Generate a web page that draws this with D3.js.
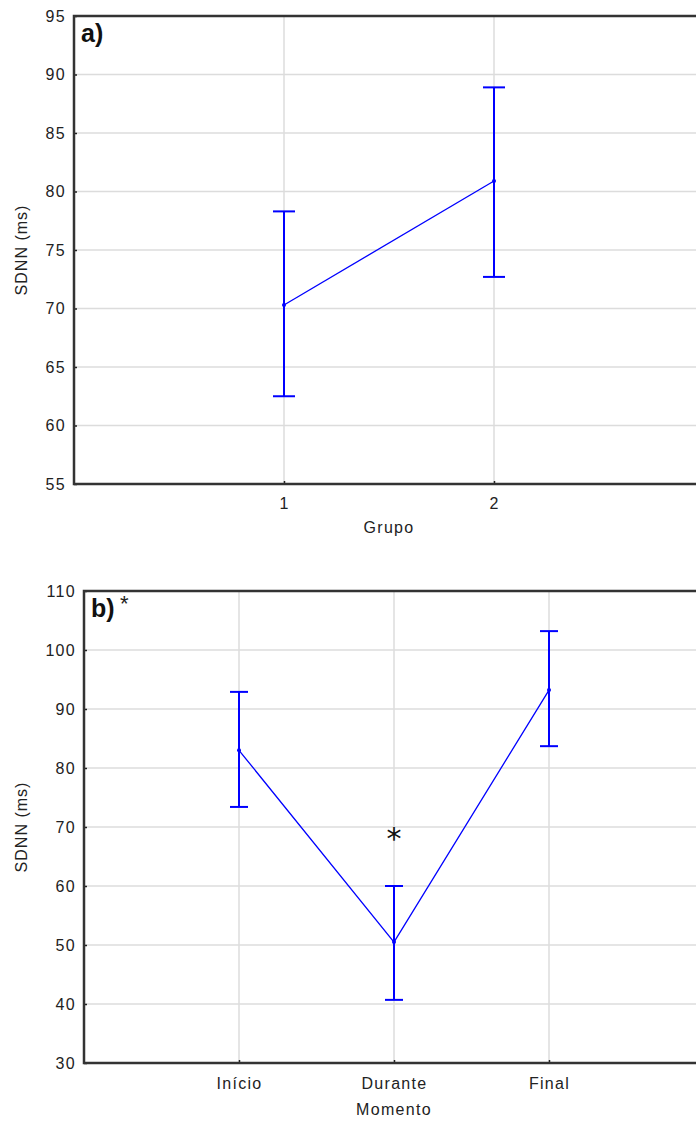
<!DOCTYPE html>
<html>
<head>
<meta charset="utf-8">
<script src="https://cdn.jsdelivr.net/npm/d3@7"></script>
<style>
body { margin: 0; background: #fff; }
text { font-family: "Liberation Sans", Arial, sans-serif; }
</style>
</head>
<body>
<div id="chart"></div>
<script>
// panel a
var groupsA = ["1", "2"];
var meanA = [70.3, 80.9];
var upperA = [78.3, 88.9];
var lowerA = [62.5, 72.7];
var ticksA = [55, 60, 65, 70, 75, 80, 85, 90, 95];

// panel b
var groupsB = ["Início", "Durante", "Final"];
var meanB = [83.0, 50.5, 93.2];
var upperB = [92.9, 60.0, 103.2];
var lowerB = [73.4, 40.7, 83.7];
var ticksB = [30, 40, 50, 60, 70, 80, 90, 100, 110];

var W = 696, H = 1122;
var svg = d3.select("#chart").append("svg")
    .attr("width", W).attr("height", H);

function drawPanel(opt) {
    var g = svg.append("g");
    var x = d3.scaleLinear().domain([0, opt.cats.length + 1]).range([opt.left, 704]);
    var y = d3.scaleLinear().domain([opt.ticks[0], opt.ticks[opt.ticks.length - 1]]).range([opt.bottom, opt.top]);

    // grid
    g.selectAll(".hg").data(opt.ticks.slice(1, -1)).enter().append("line")
        .attr("x1", opt.left).attr("x2", W)
        .attr("y1", function(d){ return y(d); }).attr("y2", function(d){ return y(d); })
        .attr("stroke", "#dcdcdc").attr("stroke-width", 1.5);
    g.selectAll(".vg").data(opt.cats).enter().append("line")
        .attr("x1", function(d,i){ return x(i + 1); }).attr("x2", function(d,i){ return x(i + 1); })
        .attr("y1", opt.top).attr("y2", opt.bottom)
        .attr("stroke", "#dcdcdc").attr("stroke-width", 1.5);

    // axes
    var yAxis = d3.axisLeft(y).tickValues(opt.ticks).tickSize(-3).tickPadding(8);
    var ya = g.append("g").attr("transform", "translate(" + opt.left + ",0)").call(yAxis);
    var xAxis = d3.axisBottom(x).tickValues(opt.cats.map(function(d,i){ return i + 1; }))
        .tickFormat(function(d){ return opt.cats[d - 1]; }).tickSize(-3).tickPadding(opt.xPad);
    var xa = g.append("g").attr("transform", "translate(0," + opt.bottom + ")").call(xAxis);
    [ya, xa].forEach(function(a){
        a.select(".domain").remove();
        a.selectAll("line").attr("stroke", "#222").attr("stroke-width", 1.5);
        a.selectAll("text").attr("fill", "#222").style("font-size", "16px")
            .style("letter-spacing", "1.3px");
    });

    // frame
    g.append("path")
        .attr("d", "M" + W + "," + opt.top + "H" + opt.left + "V" + opt.bottom + "H" + W)
        .attr("fill", "none").attr("stroke", "#333").attr("stroke-width", 2.5);

    // error bars
    var cap = opt.cap;
    opt.cats.forEach(function(c, i){
        var cx = x(i + 1);
        g.append("line").attr("x1", cx).attr("x2", cx)
            .attr("y1", y(opt.upper[i])).attr("y2", y(opt.lower[i]))
            .attr("stroke", "#0000ff").attr("stroke-width", 2);
        [opt.upper[i], opt.lower[i]].forEach(function(v){
            g.append("line").attr("x1", cx - cap).attr("x2", cx + cap)
                .attr("y1", y(v)).attr("y2", y(v))
                .attr("stroke", "#0000ff").attr("stroke-width", 2);
        });
    });

    var line = d3.line().x(function(d,i){ return x(i + 1); }).y(function(d){ return y(d); });
    g.append("path").datum(opt.mean).attr("d", line)
        .attr("fill", "none").attr("stroke", "#0000ff").attr("stroke-width", 1.3);
    g.selectAll(".pt").data(opt.mean).enter().append("circle")
        .attr("cx", function(d,i){ return x(i + 1); }).attr("cy", function(d){ return y(d); })
        .attr("r", 2).attr("fill", "#0000ff");

    // labels
    g.append("text").attr("x", opt.left + 7).attr("y", opt.top + 26)
        .style("font-size", "25px").style("font-weight", "bold").attr("fill", "#111")
        .text(opt.label);
    if (opt.star) {
        g.append("text").attr("x", opt.left + 36).attr("y", opt.top + 20)
            .style("font-size", "22px").attr("fill", "#222").text("*");
    }
    g.append("text")
        .attr("transform", "translate(27," + ((opt.top + opt.bottom) / 2) + ") rotate(-90)")
        .attr("text-anchor", "middle").style("font-size", "16px").style("letter-spacing", "1px")
        .attr("fill", "#222")
        .text("SDNN (ms)");
    g.append("text").attr("x", (x(1) + x(opt.cats.length)) / 2).attr("y", opt.bottom + opt.titleDy)
        .attr("text-anchor", "middle").style("font-size", "16px").style("letter-spacing", "1.3px")
        .attr("fill", "#222")
        .text(opt.xTitle);
    return {x: x, y: y, g: g};
}

drawPanel({cats: groupsA, mean: meanA, upper: upperA, lower: lowerA, ticks: ticksA,
    left: 74, top: 16, bottom: 484, cap: 11, label: "a)", xTitle: "Grupo", xPad: 14, titleDy: 49});

var pb = drawPanel({cats: groupsB, mean: meanB, upper: upperB, lower: lowerB, ticks: ticksB,
    left: 84, top: 591, bottom: 1063, cap: 9, label: "b)", star: true, xTitle: "Momento", xPad: 15, titleDy: 52});

// significance mark over "Durante"
pb.g.append("text").attr("x", pb.x(2)).attr("y", pb.y(70) + 22)
    .attr("text-anchor", "middle").style("font-size", "30px").attr("fill", "#111")
    .style("font-family", "DejaVu Sans").text("*");
</script>
</body>
</html>
